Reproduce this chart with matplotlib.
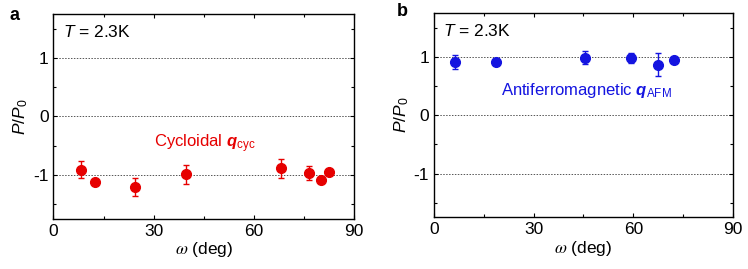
import matplotlib
matplotlib.use("Agg")
import matplotlib.pyplot as plt
from matplotlib.ticker import MultipleLocator

plt.rcParams['font.family'] = ['Liberation Sans', 'DejaVu Sans']
plt.rcParams['axes.unicode_minus'] = False
plt.rcParams['mathtext.fontset'] = 'custom'
plt.rcParams['mathtext.rm'] = 'Liberation Sans'
plt.rcParams['mathtext.it'] = 'Liberation Sans:italic'
plt.rcParams['mathtext.bf'] = 'Liberation Sans:bold'
plt.rcParams['mathtext.bfit'] = 'Liberation Sans:bold:italic'

# Panel a: cycloidal
omega_cyc = [8.1, 12.4, 24.5, 39.6, 68.1, 76.5, 80.2, 82.5]
p_cyc = [-0.91, -1.12, -1.21, -0.99, -0.89, -0.97, -1.09, -0.95]
err_cyc = [0.14, 0.03, 0.16, 0.16, 0.16, 0.12, 0.03, 0.04]

# Panel b: antiferromagnetic
omega_afm = [6.4, 18.8, 45.4, 59.4, 67.3, 72.1]
p_afm = [0.92, 0.91, 0.99, 0.98, 0.87, 0.94]
err_afm = [0.12, 0.05, 0.11, 0.08, 0.20, 0.05]

xticks = [0, 30, 60, 90]
yticks = [-1, 0, 1]

red = '#e60000'
blue = '#1414e0'

fig = plt.figure(figsize=(7.48, 2.69), dpi=100)
axa = fig.add_axes([0.0715, 0.187, 0.402, 0.761])
axb = fig.add_axes([0.580, 0.192, 0.400, 0.759])

def style(ax):
    ax.set_xlim(0, 90)
    ax.set_ylim(-1.75, 1.75)
    ax.set_xticks(xticks)
    ax.set_yticks(yticks)
    ax.xaxis.set_minor_locator(MultipleLocator(15))
    ax.yaxis.set_minor_locator(MultipleLocator(0.5))
    ax.tick_params(which='both', direction='in', top=True, right=True, labelsize=12.5)
    ax.tick_params(which='major', length=3, width=0.8)
    ax.tick_params(which='minor', length=2, width=0.8)
    for s in ax.spines.values():
        s.set_linewidth(1.0)
    for y in yticks:
        ax.axhline(y, color='#555555', lw=0.7, ls=(0, (1.5, 1.5)), zorder=1)
    ax.set_xlabel(r'$\omega$ (deg)', fontsize=12.5, labelpad=1, math_fontfamily='stix')
    ax.set_ylabel(r'$P/P_0$', fontsize=12.5, labelpad=2)
    ax.text(0.032, 0.912, r'$T$ = 2.3K', transform=ax.transAxes, fontsize=12.5,
            va='center', ha='left')

style(axa)
style(axb)

axa.errorbar(omega_cyc, p_cyc, yerr=err_cyc, fmt='o', color=red, ms=7,
             capsize=2.5, elinewidth=1, capthick=1, zorder=3)
axb.errorbar(omega_afm, p_afm, yerr=err_afm, fmt='o', color=blue, ms=7,
             capsize=2.5, elinewidth=1, capthick=1, zorder=3)

axa.text(30.2, -0.47, r'Cycloidal $\boldsymbol{q}_{\mathrm{cyc}}$', color=red,
         fontsize=12, va='center', ha='left')
axb.text(20.1, 0.43, r'Antiferromagnetic $\boldsymbol{q}_{\mathrm{AFM}}$', color=blue,
         fontsize=12, va='center', ha='left')

fig.text(10/748, 1 - 15/269, 'a', fontsize=13, fontweight='bold', va='center', ha='left')
fig.text(397/748, 1 - 11/269, 'b', fontsize=13, fontweight='bold', va='center', ha='left')

fig.savefig('out.png', dpi=100)
